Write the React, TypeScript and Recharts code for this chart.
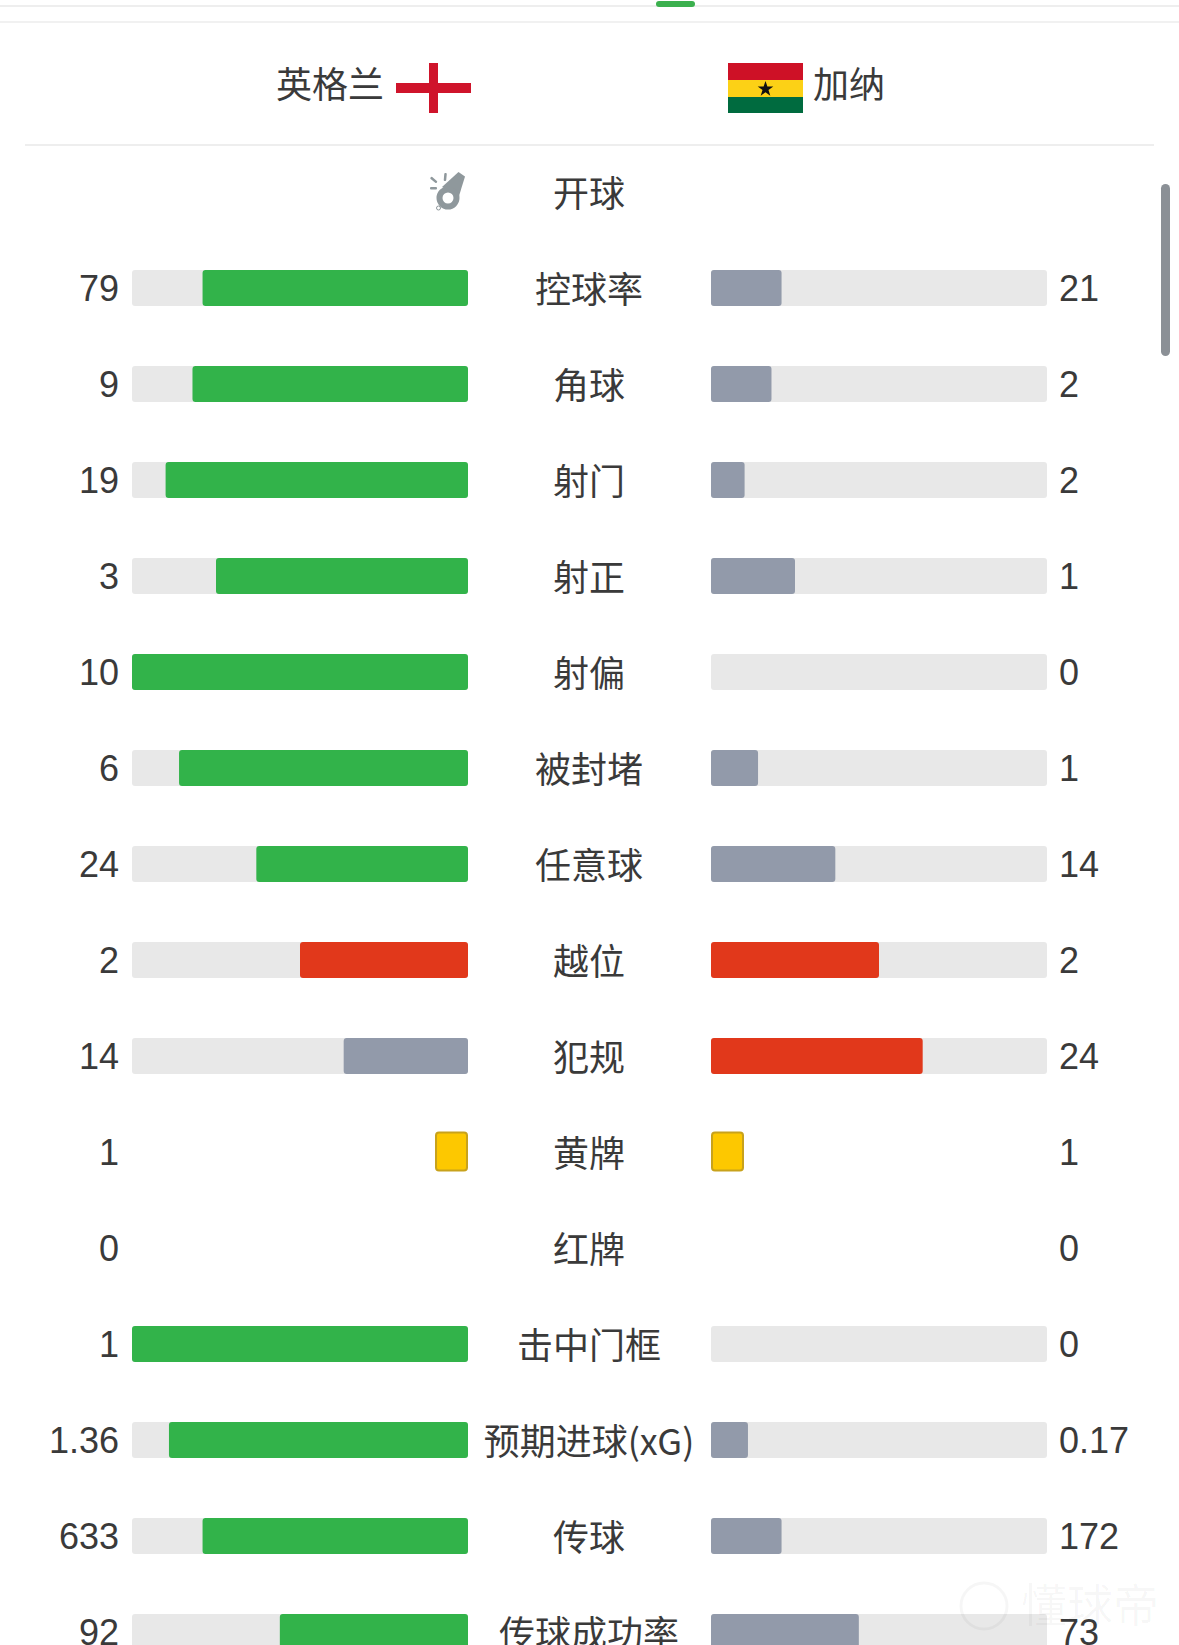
import React from "react";
import { BarChart, Bar, XAxis, YAxis, Cell } from "recharts";

const stats = ["开球", "控球率", "角球", "射门", "射正", "射偏", "被封堵", "任意球", "越位", "犯规", "黄牌", "红牌", "击中门框", "预期进球(xG)", "传球", "传球成功率"];
const homeLabels = ["", "79", "9", "19", "3", "10", "6", "24", "2", "14", "1", "0", "1", "1.36", "633", "92"];
const awayLabels = ["", "21", "2", "2", "1", "0", "1", "14", "2", "24", "1", "0", "0", "0.17", "172", "73"];
const homeValues = [0, 79, 9, 19, 3, 10, 6, 24, 2, 14, 0, 0, 1, 1.36, 633, 92];
const awayValues = [0, 21, 2, 2, 1, 0, 1, 14, 2, 24, 0, 0, 0, 0.17, 172, 73];
const homeCards = [0, 0, 0, 0, 0, 0, 0, 0, 0, 0, 1, 0, 0, 0, 0, 0];
const awayCards = [0, 0, 0, 0, 0, 0, 0, 0, 0, 0, 1, 0, 0, 0, 0, 0];
const homeState = ["n", "w", "w", "w", "w", "w", "w", "w", "r", "l", "n", "n", "w", "w", "w", "w"];
const awayState = ["n", "l", "l", "l", "l", "l", "l", "l", "r", "r", "n", "n", "l", "l", "l", "l"];

const COLORS: Record<string, string> = { w: "#32b34a", l: "#929aaa", r: "#e1381b", n: "transparent" };
const TRACK = "#e8e8e8";
const TEXT = "#3a3a3a";
const CJK = "'Noto Sans CJK SC', sans-serif";
const NUM = "'Liberation Sans', sans-serif";

const rows = stats.map((stat, i) => {
  const total = homeValues[i] + awayValues[i];
  const hasTrack = total > 0;
  return {
    stat,
    track: hasTrack ? 1 : 0,
    home: total ? Math.round((homeValues[i] / total) * 100) / 100 : 0,
    away: total ? Math.round((awayValues[i] / total) * 100) / 100 : 0,
    homeCard: homeCards[i],
    awayCard: awayCards[i],
  };
});

const CardLeft = (p: any) => {
  if (!p.homeCard) return <g />;
  const right = p.background.x + p.background.width;
  return <rect x={right - 32} y={p.y - 1.5} width={31} height={38} rx={3} fill="#fdc800" stroke="#c8a21c" strokeWidth={2} />;
};
const CardRight = (p: any) => {
  if (!p.awayCard) return <g />;
  return <rect x={p.background.x + 1} y={p.y - 1.5} width={31} height={38} rx={3} fill="#fdc800" stroke="#c8a21c" strokeWidth={2} />;
};

const CenterTick = (p: any) => (
  <text x={p.x + 113} y={p.y + 15} textAnchor="middle" fontFamily={CJK} fontSize={36} fill={TEXT}>
    {p.payload.value}
  </text>
);

const CHART_H = 1680;
const TOP = 144;

const Header = () => (
  <svg width={1179} height={240} style={{ position: "absolute", left: 0, top: 0 }}>
    <rect x={0} y={5} width={1179} height={2} fill="#eeeeee" />
    <rect x={656} y={1} width={39} height={6} rx={3} fill="#3bb04e" />
    <rect x={0} y={21} width={1179} height={2} fill="#f1f1f1" />
    <text x={384} y={98} textAnchor="end" fontFamily={CJK} fontSize={36} fill={TEXT}>英格兰</text>
    <rect x={396} y={83} width={75} height={10} fill="#cf142b" />
    <rect x={429} y={63} width={9} height={50} fill="#cf142b" />
    <rect x={728} y={63} width={75} height={17} fill="#ce1126" />
    <rect x={728} y={80} width={75} height={17} fill="#fcd116" />
    <rect x={728} y={97} width={75} height={16} fill="#006b3f" />
    <polygon points="765.5,81 767.4,86.6 773.3,86.6 768.5,90.1 770.3,95.7 765.5,92.2 760.7,95.7 762.5,90.1 757.7,86.6 763.6,86.6" fill="#111" />
    <text x={813} y={98} fontFamily={CJK} fontSize={36} fill={TEXT}>加纳</text>
    <rect x={25} y={144} width={1129} height={2} fill="#eeeeee" />
    <g fill="#8f989c">
      <polygon points="458.500,172 465,176.500 459,196 442,187" />
      <circle cx={448} cy={198} r={8.5} fill="none" stroke="#8f989c" strokeWidth={6} />
      <circle cx={438.500} cy={208} r={2} fill="none" stroke="#8f989c" strokeWidth={1} />
      <rect x={444} y={173} width={2.500} height={8} rx={1} transform="rotate(5 445 177)" />
      <rect x={433} y={175} width={2.500} height={8} rx={1} transform="rotate(-50 435 180)" />
      <rect x={430} y={187} width={7} height={2.500} rx={1} />
    </g>
  </svg>
);

export default function App() {
  return (
    <div style={{ position: "absolute", left: 0, top: 0, width: 1179, height: 1645, overflow: "hidden", background: "#fff" }}>
      <Header />
      <div style={{ position: "absolute", left: 0, top: 0 }}>
        <BarChart width={710} height={CHART_H} data={rows} layout="vertical" barSize={36} barGap={-36}
          margin={{ top: TOP, right: 0, bottom: 0, left: 0 }}>
          <XAxis type="number" domain={[0, 1]} reversed hide />
          <YAxis yAxisId="num" type="category" dataKey="stat" orientation="left" width={132} interval={0}
            axisLine={false} tickLine={false} tickMargin={7}
            tickFormatter={(_: string, i: number) => homeLabels[i]}
            tick={{ fontFamily: NUM, fontSize: 36, fill: TEXT }} />
          <YAxis yAxisId="stat" type="category" dataKey="stat" orientation="right" width={242} interval={0}
            axisLine={false} tickLine={false} tick={<CenterTick />} />
          <Bar yAxisId="num" dataKey="track" fill={TRACK} radius={3} isAnimationActive={false} />
          <Bar yAxisId="num" dataKey="home" radius={3} isAnimationActive={false}>
            {rows.map((_, i) => <Cell key={i} fill={COLORS[homeState[i]]} />)}
          </Bar>
          <Bar yAxisId="num" dataKey="homeCard" shape={<CardLeft />} isAnimationActive={false} barSize={36} />
        </BarChart>
      </div>
      <div style={{ position: "absolute", left: 700, top: 0 }}>
        <BarChart width={479} height={CHART_H} data={rows} layout="vertical" barSize={36} barGap={-36}
          margin={{ top: TOP, right: 0, bottom: 0, left: 11 }}>
          <XAxis type="number" domain={[0, 1]} hide />
          <YAxis type="category" dataKey="stat" hide />
          <YAxis yAxisId="num" type="category" dataKey="stat" orientation="right" width={132} interval={0}
            axisLine={false} tickLine={false} tickMargin={6}
            tickFormatter={(_: string, i: number) => awayLabels[i]}
            tick={{ fontFamily: NUM, fontSize: 36, fill: TEXT }} />
          <Bar dataKey="track" fill={TRACK} radius={3} isAnimationActive={false} />
          <Bar dataKey="away" radius={3} isAnimationActive={false}>
            {rows.map((_, i) => <Cell key={i} fill={COLORS[awayState[i]]} />)}
          </Bar>
          <Bar dataKey="awayCard" shape={<CardRight />} isAnimationActive={false} />
        </BarChart>
      </div>
      <svg width={1179} height={1645} style={{ position: "absolute", left: 0, top: 0, pointerEvents: "none" }}>
        <rect x={1161} y={184} width={9} height={172} rx={4.5} fill="#8b9096" />
        <circle cx={984} cy={1606} r={23} fill="none" stroke="#000" strokeOpacity={0.035} strokeWidth={3} />
        <text x={1021} y={1622} fontFamily={CJK} fontSize={46} fill="#000" fillOpacity={0.035}>懂球帝</text>
      </svg>
    </div>
  );
}
